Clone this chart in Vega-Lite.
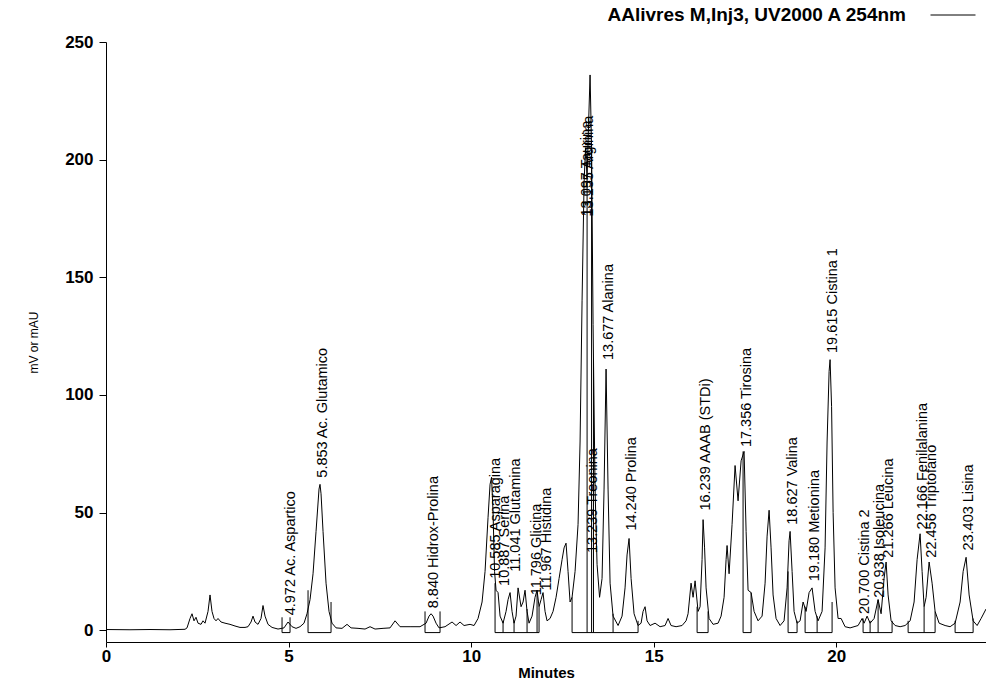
{
  "$schema": "https://vega.github.io/schema/vega-lite/v6.json",
  "width": 880,
  "height": 600,
  "autosize": {"type": "none"},
  "padding": {"left": 106, "top": 42, "right": 0, "bottom": 42},
  "background": "white",
  "config": {
    "view": {"stroke": null},
    "axis": {"domainColor": "black", "tickColor": "black", "labelColor": "black", "titleColor": "black", "grid": false, "domainWidth": 1, "tickWidth": 1},
    "axisX": {"labelFont": "Liberation Sans", "labelFontSize": 17, "labelFontWeight": "bold", "labelPadding": 1, "tickSize": 5, "titleFont": "Liberation Sans", "titleFontSize": 15, "titleFontWeight": "bold", "titlePadding": 1, "labelFlush": false},
    "axisY": {"labelFont": "Liberation Sans", "labelFontSize": 17, "labelFontWeight": "bold", "labelPadding": 6, "tickSize": 7, "titleFont": "Liberation Sans", "titleFontSize": 12, "titleFontWeight": "normal", "titlePadding": 24}
  },
  "datasets": {
    "trace": [
      {"s":"AAlivres M,Inj3, UV2000 A 254nm","t":0,"v":0.3},{"s":"AAlivres M,Inj3, UV2000 A 254nm","t":0.657,"v":0.2},{"s":"AAlivres M,Inj3, UV2000 A 254nm","t":1.205,"v":0.3},{"s":"AAlivres M,Inj3, UV2000 A 254nm","t":1.753,"v":0.2},{"s":"AAlivres M,Inj3, UV2000 A 254nm","t":2.164,"v":0.4},
      {"s":"AAlivres M,Inj3, UV2000 A 254nm","t":2.219,"v":1},{"s":"AAlivres M,Inj3, UV2000 A 254nm","t":2.301,"v":5},{"s":"AAlivres M,Inj3, UV2000 A 254nm","t":2.356,"v":7},{"s":"AAlivres M,Inj3, UV2000 A 254nm","t":2.41,"v":4},{"s":"AAlivres M,Inj3, UV2000 A 254nm","t":2.465,"v":5.5},{"s":"AAlivres M,Inj3, UV2000 A 254nm","t":2.52,"v":3},
      {"s":"AAlivres M,Inj3, UV2000 A 254nm","t":2.602,"v":2.5},{"s":"AAlivres M,Inj3, UV2000 A 254nm","t":2.657,"v":4},{"s":"AAlivres M,Inj3, UV2000 A 254nm","t":2.712,"v":3},{"s":"AAlivres M,Inj3, UV2000 A 254nm","t":2.794,"v":8},{"s":"AAlivres M,Inj3, UV2000 A 254nm","t":2.849,"v":15},{"s":"AAlivres M,Inj3, UV2000 A 254nm","t":2.903,"v":8},
      {"s":"AAlivres M,Inj3, UV2000 A 254nm","t":2.958,"v":5},{"s":"AAlivres M,Inj3, UV2000 A 254nm","t":3.013,"v":4},{"s":"AAlivres M,Inj3, UV2000 A 254nm","t":3.068,"v":5},{"s":"AAlivres M,Inj3, UV2000 A 254nm","t":3.15,"v":3.5},{"s":"AAlivres M,Inj3, UV2000 A 254nm","t":3.259,"v":3},{"s":"AAlivres M,Inj3, UV2000 A 254nm","t":3.396,"v":2.5},
      {"s":"AAlivres M,Inj3, UV2000 A 254nm","t":3.533,"v":1.8},{"s":"AAlivres M,Inj3, UV2000 A 254nm","t":3.67,"v":1.2},{"s":"AAlivres M,Inj3, UV2000 A 254nm","t":3.807,"v":1.2},{"s":"AAlivres M,Inj3, UV2000 A 254nm","t":3.889,"v":1.5},{"s":"AAlivres M,Inj3, UV2000 A 254nm","t":3.972,"v":3.5},{"s":"AAlivres M,Inj3, UV2000 A 254nm","t":4.026,"v":6},
      {"s":"AAlivres M,Inj3, UV2000 A 254nm","t":4.081,"v":3.5},{"s":"AAlivres M,Inj3, UV2000 A 254nm","t":4.163,"v":2.5},{"s":"AAlivres M,Inj3, UV2000 A 254nm","t":4.245,"v":5},{"s":"AAlivres M,Inj3, UV2000 A 254nm","t":4.3,"v":10.5},{"s":"AAlivres M,Inj3, UV2000 A 254nm","t":4.355,"v":6},{"s":"AAlivres M,Inj3, UV2000 A 254nm","t":4.437,"v":2.5},
      {"s":"AAlivres M,Inj3, UV2000 A 254nm","t":4.547,"v":1.2},{"s":"AAlivres M,Inj3, UV2000 A 254nm","t":4.711,"v":0.5},{"s":"AAlivres M,Inj3, UV2000 A 254nm","t":4.875,"v":1},{"s":"AAlivres M,Inj3, UV2000 A 254nm","t":4.985,"v":3.5},{"s":"AAlivres M,Inj3, UV2000 A 254nm","t":5.095,"v":1.5},{"s":"AAlivres M,Inj3, UV2000 A 254nm","t":5.204,"v":0.8},
      {"s":"AAlivres M,Inj3, UV2000 A 254nm","t":5.314,"v":1.5},{"s":"AAlivres M,Inj3, UV2000 A 254nm","t":5.423,"v":3},{"s":"AAlivres M,Inj3, UV2000 A 254nm","t":5.505,"v":7},{"s":"AAlivres M,Inj3, UV2000 A 254nm","t":5.588,"v":13},{"s":"AAlivres M,Inj3, UV2000 A 254nm","t":5.67,"v":24},{"s":"AAlivres M,Inj3, UV2000 A 254nm","t":5.752,"v":42},
      {"s":"AAlivres M,Inj3, UV2000 A 254nm","t":5.834,"v":60},{"s":"AAlivres M,Inj3, UV2000 A 254nm","t":5.861,"v":62},{"s":"AAlivres M,Inj3, UV2000 A 254nm","t":5.889,"v":58},{"s":"AAlivres M,Inj3, UV2000 A 254nm","t":5.944,"v":42},{"s":"AAlivres M,Inj3, UV2000 A 254nm","t":6.026,"v":20},{"s":"AAlivres M,Inj3, UV2000 A 254nm","t":6.108,"v":8},
      {"s":"AAlivres M,Inj3, UV2000 A 254nm","t":6.19,"v":3},{"s":"AAlivres M,Inj3, UV2000 A 254nm","t":6.3,"v":1},{"s":"AAlivres M,Inj3, UV2000 A 254nm","t":6.464,"v":0.8},{"s":"AAlivres M,Inj3, UV2000 A 254nm","t":6.601,"v":2.5},{"s":"AAlivres M,Inj3, UV2000 A 254nm","t":6.711,"v":1},{"s":"AAlivres M,Inj3, UV2000 A 254nm","t":6.902,"v":0.8},
      {"s":"AAlivres M,Inj3, UV2000 A 254nm","t":7.094,"v":0.5},{"s":"AAlivres M,Inj3, UV2000 A 254nm","t":7.231,"v":1.5},{"s":"AAlivres M,Inj3, UV2000 A 254nm","t":7.368,"v":0.5},{"s":"AAlivres M,Inj3, UV2000 A 254nm","t":7.587,"v":0.8},{"s":"AAlivres M,Inj3, UV2000 A 254nm","t":7.779,"v":1},{"s":"AAlivres M,Inj3, UV2000 A 254nm","t":7.916,"v":4},
      {"s":"AAlivres M,Inj3, UV2000 A 254nm","t":8.053,"v":1.5},{"s":"AAlivres M,Inj3, UV2000 A 254nm","t":8.327,"v":1.5},{"s":"AAlivres M,Inj3, UV2000 A 254nm","t":8.6,"v":1.5},{"s":"AAlivres M,Inj3, UV2000 A 254nm","t":8.765,"v":3},{"s":"AAlivres M,Inj3, UV2000 A 254nm","t":8.847,"v":6},{"s":"AAlivres M,Inj3, UV2000 A 254nm","t":8.902,"v":7},
      {"s":"AAlivres M,Inj3, UV2000 A 254nm","t":8.957,"v":6},{"s":"AAlivres M,Inj3, UV2000 A 254nm","t":9.039,"v":3},{"s":"AAlivres M,Inj3, UV2000 A 254nm","t":9.121,"v":1},{"s":"AAlivres M,Inj3, UV2000 A 254nm","t":9.285,"v":1.5},{"s":"AAlivres M,Inj3, UV2000 A 254nm","t":9.477,"v":3.5},{"s":"AAlivres M,Inj3, UV2000 A 254nm","t":9.587,"v":2},
      {"s":"AAlivres M,Inj3, UV2000 A 254nm","t":9.696,"v":3.5},{"s":"AAlivres M,Inj3, UV2000 A 254nm","t":9.806,"v":2},{"s":"AAlivres M,Inj3, UV2000 A 254nm","t":9.97,"v":2.5},{"s":"AAlivres M,Inj3, UV2000 A 254nm","t":10.08,"v":2},{"s":"AAlivres M,Inj3, UV2000 A 254nm","t":10.189,"v":5},{"s":"AAlivres M,Inj3, UV2000 A 254nm","t":10.299,"v":12},
      {"s":"AAlivres M,Inj3, UV2000 A 254nm","t":10.381,"v":25},{"s":"AAlivres M,Inj3, UV2000 A 254nm","t":10.463,"v":48},{"s":"AAlivres M,Inj3, UV2000 A 254nm","t":10.518,"v":62},{"s":"AAlivres M,Inj3, UV2000 A 254nm","t":10.559,"v":65},{"s":"AAlivres M,Inj3, UV2000 A 254nm","t":10.6,"v":50},{"s":"AAlivres M,Inj3, UV2000 A 254nm","t":10.641,"v":25},
      {"s":"AAlivres M,Inj3, UV2000 A 254nm","t":10.682,"v":17},{"s":"AAlivres M,Inj3, UV2000 A 254nm","t":10.737,"v":16},{"s":"AAlivres M,Inj3, UV2000 A 254nm","t":10.792,"v":6},{"s":"AAlivres M,Inj3, UV2000 A 254nm","t":10.874,"v":3},{"s":"AAlivres M,Inj3, UV2000 A 254nm","t":10.956,"v":8},{"s":"AAlivres M,Inj3, UV2000 A 254nm","t":11.011,"v":13},
      {"s":"AAlivres M,Inj3, UV2000 A 254nm","t":11.066,"v":16},{"s":"AAlivres M,Inj3, UV2000 A 254nm","t":11.12,"v":8},{"s":"AAlivres M,Inj3, UV2000 A 254nm","t":11.175,"v":3},{"s":"AAlivres M,Inj3, UV2000 A 254nm","t":11.23,"v":6},{"s":"AAlivres M,Inj3, UV2000 A 254nm","t":11.285,"v":18},{"s":"AAlivres M,Inj3, UV2000 A 254nm","t":11.367,"v":10},
      {"s":"AAlivres M,Inj3, UV2000 A 254nm","t":11.422,"v":12},{"s":"AAlivres M,Inj3, UV2000 A 254nm","t":11.476,"v":17},{"s":"AAlivres M,Inj3, UV2000 A 254nm","t":11.531,"v":8},{"s":"AAlivres M,Inj3, UV2000 A 254nm","t":11.586,"v":3},{"s":"AAlivres M,Inj3, UV2000 A 254nm","t":11.668,"v":6},{"s":"AAlivres M,Inj3, UV2000 A 254nm","t":11.75,"v":14},
      {"s":"AAlivres M,Inj3, UV2000 A 254nm","t":11.805,"v":17},{"s":"AAlivres M,Inj3, UV2000 A 254nm","t":11.86,"v":10},{"s":"AAlivres M,Inj3, UV2000 A 254nm","t":11.915,"v":13},{"s":"AAlivres M,Inj3, UV2000 A 254nm","t":11.969,"v":16},{"s":"AAlivres M,Inj3, UV2000 A 254nm","t":12.024,"v":8},{"s":"AAlivres M,Inj3, UV2000 A 254nm","t":12.079,"v":4},
      {"s":"AAlivres M,Inj3, UV2000 A 254nm","t":12.161,"v":5},{"s":"AAlivres M,Inj3, UV2000 A 254nm","t":12.243,"v":8},{"s":"AAlivres M,Inj3, UV2000 A 254nm","t":12.326,"v":14},{"s":"AAlivres M,Inj3, UV2000 A 254nm","t":12.408,"v":22},{"s":"AAlivres M,Inj3, UV2000 A 254nm","t":12.49,"v":30},{"s":"AAlivres M,Inj3, UV2000 A 254nm","t":12.545,"v":35},
      {"s":"AAlivres M,Inj3, UV2000 A 254nm","t":12.599,"v":37},{"s":"AAlivres M,Inj3, UV2000 A 254nm","t":12.654,"v":25},{"s":"AAlivres M,Inj3, UV2000 A 254nm","t":12.709,"v":12},{"s":"AAlivres M,Inj3, UV2000 A 254nm","t":12.764,"v":14},{"s":"AAlivres M,Inj3, UV2000 A 254nm","t":12.846,"v":25},{"s":"AAlivres M,Inj3, UV2000 A 254nm","t":12.928,"v":45},
      {"s":"AAlivres M,Inj3, UV2000 A 254nm","t":12.983,"v":80},{"s":"AAlivres M,Inj3, UV2000 A 254nm","t":13.038,"v":140},{"s":"AAlivres M,Inj3, UV2000 A 254nm","t":13.092,"v":190},{"s":"AAlivres M,Inj3, UV2000 A 254nm","t":13.133,"v":205},{"s":"AAlivres M,Inj3, UV2000 A 254nm","t":13.175,"v":192},{"s":"AAlivres M,Inj3, UV2000 A 254nm","t":13.216,"v":215},
      {"s":"AAlivres M,Inj3, UV2000 A 254nm","t":13.257,"v":236},{"s":"AAlivres M,Inj3, UV2000 A 254nm","t":13.298,"v":205},{"s":"AAlivres M,Inj3, UV2000 A 254nm","t":13.339,"v":130},{"s":"AAlivres M,Inj3, UV2000 A 254nm","t":13.394,"v":60},{"s":"AAlivres M,Inj3, UV2000 A 254nm","t":13.448,"v":28},{"s":"AAlivres M,Inj3, UV2000 A 254nm","t":13.517,"v":14},
      {"s":"AAlivres M,Inj3, UV2000 A 254nm","t":13.585,"v":22},{"s":"AAlivres M,Inj3, UV2000 A 254nm","t":13.64,"v":60},{"s":"AAlivres M,Inj3, UV2000 A 254nm","t":13.695,"v":111},{"s":"AAlivres M,Inj3, UV2000 A 254nm","t":13.75,"v":60},{"s":"AAlivres M,Inj3, UV2000 A 254nm","t":13.805,"v":20},{"s":"AAlivres M,Inj3, UV2000 A 254nm","t":13.887,"v":6},
      {"s":"AAlivres M,Inj3, UV2000 A 254nm","t":14.024,"v":2},{"s":"AAlivres M,Inj3, UV2000 A 254nm","t":14.133,"v":6},{"s":"AAlivres M,Inj3, UV2000 A 254nm","t":14.215,"v":18},{"s":"AAlivres M,Inj3, UV2000 A 254nm","t":14.27,"v":32},{"s":"AAlivres M,Inj3, UV2000 A 254nm","t":14.325,"v":39},{"s":"AAlivres M,Inj3, UV2000 A 254nm","t":14.38,"v":22},
      {"s":"AAlivres M,Inj3, UV2000 A 254nm","t":14.462,"v":7},{"s":"AAlivres M,Inj3, UV2000 A 254nm","t":14.571,"v":2},{"s":"AAlivres M,Inj3, UV2000 A 254nm","t":14.654,"v":3},{"s":"AAlivres M,Inj3, UV2000 A 254nm","t":14.708,"v":8},{"s":"AAlivres M,Inj3, UV2000 A 254nm","t":14.763,"v":10},{"s":"AAlivres M,Inj3, UV2000 A 254nm","t":14.818,"v":4},
      {"s":"AAlivres M,Inj3, UV2000 A 254nm","t":14.9,"v":2},{"s":"AAlivres M,Inj3, UV2000 A 254nm","t":15.037,"v":3},{"s":"AAlivres M,Inj3, UV2000 A 254nm","t":15.174,"v":1.5},{"s":"AAlivres M,Inj3, UV2000 A 254nm","t":15.311,"v":2},{"s":"AAlivres M,Inj3, UV2000 A 254nm","t":15.393,"v":5},{"s":"AAlivres M,Inj3, UV2000 A 254nm","t":15.475,"v":2},
      {"s":"AAlivres M,Inj3, UV2000 A 254nm","t":15.612,"v":1.5},{"s":"AAlivres M,Inj3, UV2000 A 254nm","t":15.777,"v":2},{"s":"AAlivres M,Inj3, UV2000 A 254nm","t":15.886,"v":4},{"s":"AAlivres M,Inj3, UV2000 A 254nm","t":15.941,"v":7},{"s":"AAlivres M,Inj3, UV2000 A 254nm","t":16.023,"v":20},{"s":"AAlivres M,Inj3, UV2000 A 254nm","t":16.078,"v":14},
      {"s":"AAlivres M,Inj3, UV2000 A 254nm","t":16.133,"v":21},{"s":"AAlivres M,Inj3, UV2000 A 254nm","t":16.215,"v":8},{"s":"AAlivres M,Inj3, UV2000 A 254nm","t":16.27,"v":10},{"s":"AAlivres M,Inj3, UV2000 A 254nm","t":16.324,"v":30},{"s":"AAlivres M,Inj3, UV2000 A 254nm","t":16.352,"v":47},{"s":"AAlivres M,Inj3, UV2000 A 254nm","t":16.393,"v":35},
      {"s":"AAlivres M,Inj3, UV2000 A 254nm","t":16.434,"v":18},{"s":"AAlivres M,Inj3, UV2000 A 254nm","t":16.516,"v":5},{"s":"AAlivres M,Inj3, UV2000 A 254nm","t":16.626,"v":2.5},{"s":"AAlivres M,Inj3, UV2000 A 254nm","t":16.763,"v":3},{"s":"AAlivres M,Inj3, UV2000 A 254nm","t":16.845,"v":6},{"s":"AAlivres M,Inj3, UV2000 A 254nm","t":16.927,"v":14},
      {"s":"AAlivres M,Inj3, UV2000 A 254nm","t":16.982,"v":30},{"s":"AAlivres M,Inj3, UV2000 A 254nm","t":17.009,"v":36},{"s":"AAlivres M,Inj3, UV2000 A 254nm","t":17.064,"v":24},{"s":"AAlivres M,Inj3, UV2000 A 254nm","t":17.146,"v":45},{"s":"AAlivres M,Inj3, UV2000 A 254nm","t":17.228,"v":70},{"s":"AAlivres M,Inj3, UV2000 A 254nm","t":17.31,"v":55},
      {"s":"AAlivres M,Inj3, UV2000 A 254nm","t":17.393,"v":72},{"s":"AAlivres M,Inj3, UV2000 A 254nm","t":17.475,"v":76},{"s":"AAlivres M,Inj3, UV2000 A 254nm","t":17.53,"v":42},{"s":"AAlivres M,Inj3, UV2000 A 254nm","t":17.584,"v":17},{"s":"AAlivres M,Inj3, UV2000 A 254nm","t":17.667,"v":16},{"s":"AAlivres M,Inj3, UV2000 A 254nm","t":17.749,"v":8},
      {"s":"AAlivres M,Inj3, UV2000 A 254nm","t":17.858,"v":4},{"s":"AAlivres M,Inj3, UV2000 A 254nm","t":17.968,"v":6},{"s":"AAlivres M,Inj3, UV2000 A 254nm","t":18.05,"v":20},{"s":"AAlivres M,Inj3, UV2000 A 254nm","t":18.105,"v":40},{"s":"AAlivres M,Inj3, UV2000 A 254nm","t":18.16,"v":51},{"s":"AAlivres M,Inj3, UV2000 A 254nm","t":18.214,"v":35},
      {"s":"AAlivres M,Inj3, UV2000 A 254nm","t":18.269,"v":15},{"s":"AAlivres M,Inj3, UV2000 A 254nm","t":18.351,"v":5},{"s":"AAlivres M,Inj3, UV2000 A 254nm","t":18.461,"v":2},{"s":"AAlivres M,Inj3, UV2000 A 254nm","t":18.57,"v":4},{"s":"AAlivres M,Inj3, UV2000 A 254nm","t":18.653,"v":18},{"s":"AAlivres M,Inj3, UV2000 A 254nm","t":18.707,"v":38},
      {"s":"AAlivres M,Inj3, UV2000 A 254nm","t":18.735,"v":42},{"s":"AAlivres M,Inj3, UV2000 A 254nm","t":18.79,"v":25},{"s":"AAlivres M,Inj3, UV2000 A 254nm","t":18.844,"v":8},{"s":"AAlivres M,Inj3, UV2000 A 254nm","t":18.926,"v":3},{"s":"AAlivres M,Inj3, UV2000 A 254nm","t":19.009,"v":4},{"s":"AAlivres M,Inj3, UV2000 A 254nm","t":19.091,"v":12},
      {"s":"AAlivres M,Inj3, UV2000 A 254nm","t":19.173,"v":8},{"s":"AAlivres M,Inj3, UV2000 A 254nm","t":19.255,"v":16},{"s":"AAlivres M,Inj3, UV2000 A 254nm","t":19.337,"v":18},{"s":"AAlivres M,Inj3, UV2000 A 254nm","t":19.42,"v":8},{"s":"AAlivres M,Inj3, UV2000 A 254nm","t":19.502,"v":4},{"s":"AAlivres M,Inj3, UV2000 A 254nm","t":19.611,"v":8},
      {"s":"AAlivres M,Inj3, UV2000 A 254nm","t":19.693,"v":35},{"s":"AAlivres M,Inj3, UV2000 A 254nm","t":19.748,"v":80},{"s":"AAlivres M,Inj3, UV2000 A 254nm","t":19.803,"v":110},{"s":"AAlivres M,Inj3, UV2000 A 254nm","t":19.83,"v":115},{"s":"AAlivres M,Inj3, UV2000 A 254nm","t":19.871,"v":95},{"s":"AAlivres M,Inj3, UV2000 A 254nm","t":19.913,"v":50},
      {"s":"AAlivres M,Inj3, UV2000 A 254nm","t":19.967,"v":18},{"s":"AAlivres M,Inj3, UV2000 A 254nm","t":20.049,"v":5},{"s":"AAlivres M,Inj3, UV2000 A 254nm","t":20.132,"v":5},{"s":"AAlivres M,Inj3, UV2000 A 254nm","t":20.241,"v":1.5},{"s":"AAlivres M,Inj3, UV2000 A 254nm","t":20.378,"v":1},{"s":"AAlivres M,Inj3, UV2000 A 254nm","t":20.597,"v":2},
      {"s":"AAlivres M,Inj3, UV2000 A 254nm","t":20.707,"v":5},{"s":"AAlivres M,Inj3, UV2000 A 254nm","t":20.762,"v":3},{"s":"AAlivres M,Inj3, UV2000 A 254nm","t":20.844,"v":6},{"s":"AAlivres M,Inj3, UV2000 A 254nm","t":20.926,"v":3},{"s":"AAlivres M,Inj3, UV2000 A 254nm","t":21.036,"v":5},{"s":"AAlivres M,Inj3, UV2000 A 254nm","t":21.145,"v":13},
      {"s":"AAlivres M,Inj3, UV2000 A 254nm","t":21.227,"v":7},{"s":"AAlivres M,Inj3, UV2000 A 254nm","t":21.309,"v":22},{"s":"AAlivres M,Inj3, UV2000 A 254nm","t":21.364,"v":29},{"s":"AAlivres M,Inj3, UV2000 A 254nm","t":21.419,"v":15},{"s":"AAlivres M,Inj3, UV2000 A 254nm","t":21.501,"v":4},{"s":"AAlivres M,Inj3, UV2000 A 254nm","t":21.611,"v":2},
      {"s":"AAlivres M,Inj3, UV2000 A 254nm","t":21.748,"v":1.5},{"s":"AAlivres M,Inj3, UV2000 A 254nm","t":21.885,"v":2},{"s":"AAlivres M,Inj3, UV2000 A 254nm","t":22.022,"v":4},{"s":"AAlivres M,Inj3, UV2000 A 254nm","t":22.131,"v":12},{"s":"AAlivres M,Inj3, UV2000 A 254nm","t":22.213,"v":30},{"s":"AAlivres M,Inj3, UV2000 A 254nm","t":22.295,"v":41},
      {"s":"AAlivres M,Inj3, UV2000 A 254nm","t":22.35,"v":25},{"s":"AAlivres M,Inj3, UV2000 A 254nm","t":22.405,"v":10},{"s":"AAlivres M,Inj3, UV2000 A 254nm","t":22.46,"v":14},{"s":"AAlivres M,Inj3, UV2000 A 254nm","t":22.542,"v":29},{"s":"AAlivres M,Inj3, UV2000 A 254nm","t":22.624,"v":20},{"s":"AAlivres M,Inj3, UV2000 A 254nm","t":22.706,"v":8},
      {"s":"AAlivres M,Inj3, UV2000 A 254nm","t":22.816,"v":3},{"s":"AAlivres M,Inj3, UV2000 A 254nm","t":22.98,"v":2},{"s":"AAlivres M,Inj3, UV2000 A 254nm","t":23.117,"v":1.5},{"s":"AAlivres M,Inj3, UV2000 A 254nm","t":23.254,"v":3},{"s":"AAlivres M,Inj3, UV2000 A 254nm","t":23.391,"v":12},{"s":"AAlivres M,Inj3, UV2000 A 254nm","t":23.474,"v":25},
      {"s":"AAlivres M,Inj3, UV2000 A 254nm","t":23.555,"v":31},{"s":"AAlivres M,Inj3, UV2000 A 254nm","t":23.638,"v":15},{"s":"AAlivres M,Inj3, UV2000 A 254nm","t":23.747,"v":4},{"s":"AAlivres M,Inj3, UV2000 A 254nm","t":23.857,"v":2},{"s":"AAlivres M,Inj3, UV2000 A 254nm","t":23.966,"v":5},{"s":"AAlivres M,Inj3, UV2000 A 254nm","t":24.1,"v":9}
    ],
    "labels": [
      {"t":4.985,"v":5.5,"text":"4.972 Ac. Aspartico"},
      {"t":5.861,"v":64,"text":"5.853 Ac. Glutamico"},
      {"t":8.902,"v":8.5,"text":"8.840 Hidrox-Prolina"},
      {"t":10.6,"v":21,"text":"10.585 Asparagina"},
      {"t":10.85,"v":18,"text":"10.887 Serina"},
      {"t":11.15,"v":24,"text":"11.041 Glutamina"},
      {"t":11.72,"v":14,"text":"11.796 Glicina"},
      {"t":12.0,"v":16,"text":"11.967 Histidina"},
      {"t":13.1,"v":175,"text":"13.097 Taurina"},
      {"t":13.15,"v":175,"text":"13.155 Arginina"},
      {"t":13.25,"v":32,"text":"13.239 Treonina"},
      {"t":13.695,"v":114,"text":"13.677 Alanina"},
      {"t":14.325,"v":41.5,"text":"14.240 Prolina"},
      {"t":16.352,"v":50,"text":"16.239 AAAB (STDi)"},
      {"t":17.475,"v":77,"text":"17.356 Tirosina"},
      {"t":18.735,"v":44,"text":"18.627 Valina"},
      {"t":19.337,"v":20,"text":"19.180 Metionina"},
      {"t":19.83,"v":117,"text":"19.615 Cistina 1"},
      {"t":20.7,"v":6,"text":"20.700 Cistina 2"},
      {"t":21.12,"v":13,"text":"20.938 Isoleucina"},
      {"t":21.364,"v":30,"text":"21.266 Leucina"},
      {"t":22.295,"v":42,"text":"22.166 Fenilalanina"},
      {"t":22.542,"v":30,"text":"22.456 Triptofano"},
      {"t":23.555,"v":33,"text":"23.403 Lisina"}
    ],
    "hseg": [
      {"t1":4.821,"t2":5.04},{"t1":5.533,"t2":6.163},{"t1":8.737,"t2":9.148},{"t1":10.655,"t2":11.86},
      {"t1":12.764,"t2":14.571},{"t1":16.188,"t2":16.489},{"t1":17.447,"t2":17.667},{"t1":18.68,"t2":18.926},
      {"t1":19.146,"t2":19.885},{"t1":20.734,"t2":21.528},{"t1":21.967,"t2":22.706},{"t1":23.254,"t2":23.747}
    ],
    "vtick": [
      {"t":4.821,"top":5.5},{"t":5.04,"top":5.5},{"t":5.533,"top":17},{"t":6.163,"top":12},{"t":8.737,"top":8},{"t":9.148,"top":8},
      {"t":10.655,"top":20},{"t":10.874,"top":4},{"t":11.175,"top":4},{"t":11.531,"top":9},{"t":11.805,"top":17},{"t":11.86,"top":10},
      {"t":12.764,"top":14},{"t":13.175,"top":192},{"t":13.298,"top":205},{"t":13.35,"top":115},{"t":13.887,"top":7},{"t":14.571,"top":4},
      {"t":16.188,"top":10},{"t":16.489,"top":8},{"t":17.447,"top":76},{"t":17.667,"top":16},{"t":18.68,"top":25},{"t":18.926,"top":4},
      {"t":19.146,"top":10},{"t":19.475,"top":6},{"t":19.885,"top":12},{"t":20.734,"top":5},{"t":20.926,"top":4},{"t":21.145,"top":13},
      {"t":21.528,"top":4},{"t":21.967,"top":4},{"t":22.405,"top":10},{"t":22.706,"top":8},{"t":23.254,"top":4},{"t":23.747,"top":5}
    ]
  },
  "layer": [
    {
      "data": {"name": "trace"},
      "mark": {"type": "line", "strokeWidth": 1, "interpolate": "linear"},
      "encoding": {
        "x": {"field": "t", "type": "quantitative", "title": "Minutes", "scale": {"domain": [0, 24.1], "nice": false, "zero": false}, "axis": {"values": [0, 5, 10, 15, 20]}},
        "y": {"field": "v", "type": "quantitative", "title": "mV or mAU", "scale": {"domain": [-5, 250], "nice": false, "zero": false}, "axis": {"values": [0, 50, 100, 150, 200, 250]}},
        "color": {
          "field": "s", "type": "nominal",
          "scale": {"range": ["black"]},
          "legend": {
            "orient": "none", "legendX": 824, "legendY": -50, "title": null, "padding": 0,
            "symbolType": "stroke", "symbolSize": 2025, "symbolStrokeWidth": 1, "symbolStrokeColor": "#888",
            "labelAlign": "right", "labelOffset": -70, "labelFont": "Liberation Sans", "labelFontSize": 19, "labelFontWeight": "bold", "labelColor": "black", "labelLimit": 600,
            "encode": {"symbols": {"update": {"stroke": {"value": "#888"}, "strokeWidth": {"value": 1}, "opacity": {"value": 1}}}}
          }
        }
      }
    },
    {
      "data": {"name": "hseg"},
      "mark": {"type": "rule", "color": "black", "strokeWidth": 1},
      "encoding": {
        "x": {"field": "t1", "type": "quantitative", "title": "Minutes"},
        "x2": {"field": "t2"},
        "y": {"datum": -1, "type": "quantitative", "title": "mV or mAU"}
      }
    },
    {
      "data": {"name": "vtick"},
      "mark": {"type": "rule", "color": "black", "strokeWidth": 1},
      "encoding": {
        "x": {"field": "t", "type": "quantitative", "title": "Minutes"},
        "y": {"field": "top", "type": "quantitative", "title": "mV or mAU"},
        "y2": {"datum": -1}
      }
    },
    {
      "data": {"name": "labels"},
      "mark": {"type": "text", "angle": -90, "align": "left", "baseline": "middle", "dx": 2, "dy": 3, "font": "Liberation Sans", "fontSize": 14.5, "color": "black"},
      "encoding": {
        "x": {"field": "t", "type": "quantitative", "title": "Minutes"},
        "y": {"field": "v", "type": "quantitative", "title": "mV or mAU"},
        "text": {"field": "text"}
      }
    }
  ]
}
